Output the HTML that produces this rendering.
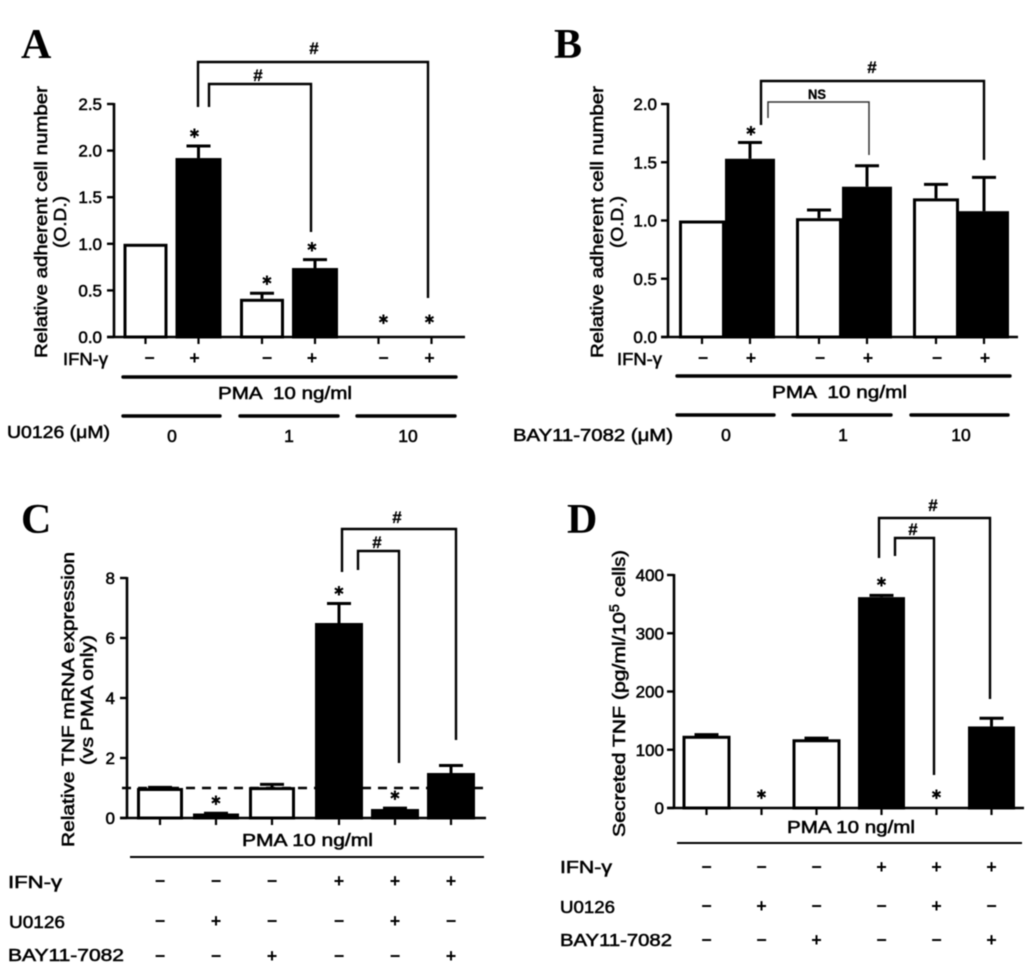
<!DOCTYPE html>
<html lang="en">
<head>
<meta charset="utf-8">
<title>TNF and adhesion bar charts</title>
<style>
  html, body { margin: 0; padding: 0; background: #fff; }
  #figure { display: block; width: 1033px; height: 980px; filter: blur(0.45px); }
  text { font-family: "Liberation Sans", "DejaVu Sans", sans-serif; fill: #000; stroke: #000; stroke-width: 0.55px; }
  .panel-letter { font-family: "Liberation Serif", serif; font-weight: bold; font-size: 42px; stroke: none; fill: #000; }
  .axis-title { font-size: 17.5px; }
  .tick-label { font-size: 17px; }
  .row-label { font-size: 17.5px; }
  .sign { font-size: 18px; font-weight: bold; stroke: none; text-anchor: middle; }
  .mark { font-size: 17px; font-weight: bold; stroke: #000; stroke-width: 0.3px; text-anchor: middle; }
  .star { font-family: "DejaVu Sans", sans-serif; font-size: 13px; stroke: none; text-anchor: middle; fill: #000; }
  .rule { stroke: #000; stroke-linecap: round; fill: none; }
  .bracket { stroke: #000; stroke-width: 2.4; fill: none; }
</style>
</head>
<body>
<svg id="figure" xmlns="http://www.w3.org/2000/svg" width="1033" height="980" viewBox="0 0 1033 980">
  <rect x="0" y="0" width="1033" height="980" fill="#fff"/>

  <g id="panel-a">
    <text class="panel-letter" x="21" y="58">A</text>
    <text class="axis-title" transform="translate(47,358) rotate(-90)" textLength="272" lengthAdjust="spacingAndGlyphs">Relative adherent cell number</text>
    <text class="axis-title" transform="translate(66,248) rotate(-90)" textLength="52" lengthAdjust="spacingAndGlyphs">(O.D.)</text>
    <text class="row-label" x="63" y="365" textLength="45" lengthAdjust="spacingAndGlyphs">IFN-γ</text>
    <line class="rule" x1="123" y1="377" x2="456" y2="377" stroke-width="3.4"/>
    <text class="row-label" x="218" y="399" textLength="134" lengthAdjust="spacingAndGlyphs" xml:space="preserve">PMA  10 ng/ml</text>
    <line class="rule" x1="123" y1="416" x2="220" y2="416" stroke-width="3.4"/>
    <line class="rule" x1="240" y1="416" x2="338" y2="416" stroke-width="3.4"/>
    <line class="rule" x1="357" y1="416" x2="455" y2="416" stroke-width="3.4"/>
    <text class="row-label" x="7" y="438" textLength="103" lengthAdjust="spacingAndGlyphs">U0126 (μM)</text>
    <text class="row-label" x="172" y="442" text-anchor="middle">0</text>
    <text class="row-label" x="289" y="442" text-anchor="middle">1</text>
    <text class="row-label" x="408" y="442" text-anchor="middle">10</text>
    <polyline class="bracket" points="198,107 198,62 428,62 428,298"/>
    <polyline class="bracket" points="209,107 209,84 311,84 311,232"/>
    <text class="mark" x="314" y="54">#</text>
    <text class="mark" x="258" y="81">#</text>
  </g>

  <g id="panel-b">
    <text class="panel-letter" x="554" y="58">B</text>
    <text class="axis-title" transform="translate(603,358) rotate(-90)" textLength="272" lengthAdjust="spacingAndGlyphs">Relative adherent cell number</text>
    <text class="axis-title" transform="translate(623,248) rotate(-90)" textLength="52" lengthAdjust="spacingAndGlyphs">(O.D.)</text>
    <text class="row-label" x="617" y="365" textLength="45" lengthAdjust="spacingAndGlyphs">IFN-γ</text>
    <line class="rule" x1="677" y1="376" x2="1010" y2="376" stroke-width="3.4"/>
    <text class="row-label" x="772" y="398" textLength="135" lengthAdjust="spacingAndGlyphs" xml:space="preserve">PMA  10 ng/ml</text>
    <line class="rule" x1="677" y1="415" x2="774" y2="415" stroke-width="3.4"/>
    <line class="rule" x1="793" y1="415" x2="891" y2="415" stroke-width="3.4"/>
    <line class="rule" x1="911" y1="415" x2="1008" y2="415" stroke-width="3.4"/>
    <text class="row-label" x="513" y="441" textLength="160" lengthAdjust="spacingAndGlyphs">BAY11-7082 (μM)</text>
    <text class="row-label" x="726" y="441" text-anchor="middle">0</text>
    <text class="row-label" x="843" y="441" text-anchor="middle">1</text>
    <text class="row-label" x="961" y="441" text-anchor="middle">10</text>
    <polyline class="bracket" points="761,125 761,81 984,81 984,160"/>
    <polyline class="bracket" points="768,118 768,102 869,102 869,155" style="stroke-width:1.5;stroke:#333"/>
    <text class="mark" x="872" y="73">#</text>
    <text class="mark" x="817" y="99" style="font-size:14px" textLength="18" lengthAdjust="spacingAndGlyphs">NS</text>
  </g>

  <g id="panel-c">
    <text class="panel-letter" x="21" y="533">C</text>
    <text class="axis-title" transform="translate(74,847) rotate(-90)" textLength="295" lengthAdjust="spacingAndGlyphs">Relative TNF mRNA expression</text>
    <text class="axis-title" transform="translate(93,765) rotate(-90)" textLength="130" lengthAdjust="spacingAndGlyphs">(vs PMA only)</text>
    <text class="row-label" x="242" y="846" textLength="131" lengthAdjust="spacingAndGlyphs">PMA 10 ng/ml</text>
    <line x1="130" y1="857" x2="484" y2="857" stroke="#000" stroke-width="2"/>
    <text class="row-label" x="8" y="888" textLength="54" lengthAdjust="spacingAndGlyphs">IFN-γ</text>
    <text class="row-label" x="9" y="928" textLength="56" lengthAdjust="spacingAndGlyphs">U0126</text>
    <text class="row-label" x="8" y="961" textLength="116" lengthAdjust="spacingAndGlyphs">BAY11-7082</text>
    <polyline class="bracket" points="342,572 342,529 456,529 456,740"/>
    <polyline class="bracket" points="358,570 358,551 399,551 399,763"/>
    <text class="mark" x="397" y="523">#</text>
    <text class="mark" x="377" y="548">#</text>
  </g>

  <g id="panel-d">
    <text class="panel-letter" x="567" y="533">D</text>
    <text class="axis-title" transform="translate(625,837) rotate(-90)" textLength="225" lengthAdjust="spacingAndGlyphs">Secreted TNF (pg/ml/10</text>
    <text class="axis-title" transform="translate(619,612) rotate(-90)" style="font-size:14px">5</text>
    <text class="axis-title" transform="translate(625,597) rotate(-90)" textLength="47" lengthAdjust="spacingAndGlyphs">cells)</text>
    <text class="row-label" x="787" y="833" textLength="128" lengthAdjust="spacingAndGlyphs">PMA 10 ng/ml</text>
    <line x1="677" y1="843" x2="1022" y2="843" stroke="#000" stroke-width="2"/>
    <text class="row-label" x="560" y="873" textLength="52" lengthAdjust="spacingAndGlyphs">IFN-γ</text>
    <text class="row-label" x="560" y="913" textLength="55" lengthAdjust="spacingAndGlyphs">U0126</text>
    <text class="row-label" x="560" y="946" textLength="112" lengthAdjust="spacingAndGlyphs">BAY11-7082</text>
    <polyline class="bracket" points="879,558 879,518 990,518 990,699"/>
    <polyline class="bracket" points="895,556 895,538 934,538 934,775"/>
    <text class="mark" x="933" y="511">#</text>
    <text class="mark" x="913" y="535">#</text>
  </g>
</svg>

<script>
// ---- Panel A data
var aValues = [1.0, 1.92, 0.41, 0.74, 0, 0];
var aErrorTops = [1.0, 2.05, 0.47, 0.83, 0, 0];
var aStarred = [false, true, true, true, true, true];
var aIfn = ['−', '+', '−', '+', '−', '+'];
var aTicks = ['0.0', '0.5', '1.0', '1.5', '2.0', '2.5'];

// ---- Panel B data
var bValues = [1.0, 1.53, 1.02, 1.29, 1.19, 1.08];
var bErrorTops = [1.0, 1.67, 1.09, 1.47, 1.31, 1.37];
var bStarred = [false, true, false, false, false, false];
var bIfn = ['−', '+', '−', '+', '−', '+'];
var bTicks = ['0.0', '0.5', '1.0', '1.5', '2.0'];

// ---- Panel C data
var cValues = [1.0, 0.15, 1.03, 6.5, 0.3, 1.5];
var cErrorTops = [1.02, 0.16, 1.12, 7.15, 0.33, 1.75];
var cStarred = [false, true, false, true, true, false];
var cIfn = ['−', '−', '−', '+', '+', '+'];
var cU0126 = ['−', '+', '−', '−', '+', '−'];
var cBay = ['−', '−', '+', '−', '−', '+'];
var cTicks = ['0', '2', '4', '6', '8'];
var cReference = [1];

// ---- Panel D data
var dValues = [124, 0, 118, 362, 0, 140];
var dErrorTops = [126, 0, 120, 365, 0, 154];
var dStarred = [false, true, false, true, true, false];
var dIfn = ['−', '−', '−', '+', '+', '+'];
var dU0126 = ['−', '+', '−', '−', '+', '−'];
var dBay = ['−', '−', '+', '−', '−', '+'];
var dTicks = ['0', '100', '200', '300', '400'];

var SVG_NS = 'http://www.w3.org/2000/svg';

function addLine(group, x1, y1, x2, y2, width, name) {
  var el = document.createElementNS(SVG_NS, 'line');
  el.setAttribute('x1', x1);
  el.setAttribute('y1', y1);
  el.setAttribute('x2', x2);
  el.setAttribute('y2', y2);
  el.setAttribute('stroke', '#000');
  el.setAttribute('stroke-width', width);
  
  
  group.appendChild(el);
  return el;
}

function addText(group, cls, x, y, content, anchor, name) {
  var el = document.createElementNS(SVG_NS, 'text');
  el.setAttribute('class', cls);
  el.setAttribute('x', x);
  el.setAttribute('y', y);
  if (anchor) { el.setAttribute('text-anchor', anchor); }
  el.textContent = content;
  
  
  group.appendChild(el);
  return el;
}

function addBar(group, cx, top, base, width, black, name) {
  var el = document.createElementNS(SVG_NS, 'rect');
  el.setAttribute('x', cx - width / 2 + 1.5);
  el.setAttribute('y', top + 1.5);
  el.setAttribute('width', Math.max(width - 3, 0));
  el.setAttribute('height', Math.max(base - top - 1.5, 0));
  el.setAttribute('fill', black ? '#000' : '#fff');
  el.setAttribute('stroke', '#000');
  el.setAttribute('stroke-width', 3);
  
  
  group.appendChild(el);
  return el;
}

function drawPanel(opt) {
  var g = document.getElementById(opt.id);
  var yScale = function (v) {
    return opt.yBase - (v / opt.yMax) * (opt.yBase - opt.yTop);
  };
  var n = opt.values.length;
  var i;

  // error bars sit behind the bars
  for (i = 0; i < n; i++) {
    if (opt.errorTops[i] > opt.values[i]) {
      var ex = opt.xScale(i);
      var ey = yScale(opt.errorTops[i]);
      addLine(g, ex, yScale(opt.values[i]), ex, ey, 3, 'error-stem-' + opt.key + '-' + i);
      addLine(g, ex - 12, ey, ex + 12, ey, 3, 'error-cap-' + opt.key + '-' + i);
    }
  }

  // bars
  for (i = 0; i < n; i++) {
    if (opt.values[i] > 0) {
      var black = i >= opt.firstBlack(i);
      addBar(g, opt.xScale(i), yScale(opt.values[i]), opt.yBase,
        black ? opt.blackWidth : opt.whiteWidth, black, 'bar-' + opt.key + '-' + i);
    }
  }

  // axes
  addLine(g, opt.axisX, opt.yTop - 1, opt.axisX, opt.yBase + 1, 2.6, 'y-axis-' + opt.key);
  addLine(g, opt.axisX - 7, opt.yBase, opt.xEnd, opt.yBase, 2.6, 'x-axis-' + opt.key);

  // y ticks and labels
  for (i = 0; i < opt.ticks.length; i++) {
    var tv = parseFloat(opt.ticks[i]);
    var ty = yScale(tv);
    addLine(g, opt.axisX - 7, ty, opt.axisX, ty, 2.4, 'y-tick-' + opt.key + '-' + opt.ticks[i]);
    addText(g, 'tick-label', opt.tickRight, ty + 6, opt.ticks[i], 'end', 'y-tick-label-' + opt.key + '-' + opt.ticks[i]);
  }

  // x ticks
  for (i = 0; i < n; i++) {
    addLine(g, opt.xScale(i), opt.yBase, opt.xScale(i), opt.yBase + 7, 2.2, 'x-tick-' + opt.key + '-' + i);
  }

  // stars follow each bar's error top
  for (i = 0; i < n; i++) {
    if (opt.starred[i]) {
      var offset = opt.errorTops[i] > 0 ? opt.starGap : opt.zeroStarGap;
      var sy = yScale(opt.errorTops[i]) - offset;
      addText(g, 'star', opt.xScale(i) + opt.shift(i), sy + 5, '✱', null, 'significance-star-' + opt.key + '-' + i);
    }
  }

  // condition sign rows
  opt.rows.forEach(function (row) {
    row.signs.forEach(function (s, j) {
      addText(g, 'sign', opt.xScale(j) + opt.shift(j), row.y + 6, s, null, row.name + '-sign-' + opt.key + '-' + j);
    });
  });
}

drawPanel({
  id: 'panel-a', key: 'a', values: aValues, errorTops: aErrorTops, starred: aStarred, ticks: aTicks,
  yBase: 337, yTop: 104, yMax: 2.5, axisX: 114, xEnd: 465, tickRight: 102,
  xScale: function (i) { return 145.5 + Math.floor(i / 2) * 116.5 + (i % 2) * 53; },
  firstBlack: function (i) { return i % 2 === 1 ? 0 : 99; },
  whiteWidth: 44, blackWidth: 46, starGap: 13, zeroStarGap: 18,
  shift: function (i) { return [4, -4, 5, -3, 5, -2][i]; },
  rows: [{ y: 358, signs: aIfn, name: 'ifn' }]
});

drawPanel({
  id: 'panel-b', key: 'b', values: bValues, errorTops: bErrorTops, starred: bStarred, ticks: bTicks,
  yBase: 337, yTop: 104, yMax: 2.0, axisX: 668, xEnd: 1018, tickRight: 657,
  xScale: function (i) { return 702 + Math.floor(i / 2) * 117 + (i % 2) * 48; },
  firstBlack: function (i) { return i % 2 === 1 ? 0 : 99; },
  whiteWidth: 46, blackWidth: 50, starGap: 12, zeroStarGap: 18,
  shift: function (i) { return 1; },
  rows: [{ y: 358, signs: bIfn, name: 'ifn' }]
});

drawPanel({
  id: 'panel-c', key: 'c', values: cValues, errorTops: cErrorTops, starred: cStarred, ticks: cTicks,
  yBase: 818, yTop: 578, yMax: 8, axisX: 127, xEnd: 486, tickRight: 115,
  xScale: function (i) { return 160 + 56 * i + (i >= 3 ? 11 : 0); },
  firstBlack: function (i) { return 3; },
  whiteWidth: 46, blackWidth: 48, starGap: 13, zeroStarGap: 18,
  shift: function (i) { return 0; },
  rows: [
    { y: 881, signs: cIfn, name: 'ifn' },
    { y: 921, signs: cU0126, name: 'u0126' },
    { y: 956, signs: cBay, name: 'bay' }
  ]
});

(function drawReferenceLine() {
  var g = document.getElementById('panel-c');
  var ry = 818 - (cReference[0] / 8) * (818 - 578);
  var line = addLine(g, 122, ry, 487, ry, 2.6, 'reference-line-c');
  line.setAttribute('stroke-dasharray', '9 7');
})();

drawPanel({
  id: 'panel-d', key: 'd', values: dValues, errorTops: dErrorTops, starred: dStarred, ticks: dTicks,
  yBase: 808, yTop: 575, yMax: 400, axisX: 674, xEnd: 1024, tickRight: 664,
  xScale: function (i) { return 706.5 + 55 * i + (i >= 3 ? 10 : 0); },
  firstBlack: function (i) { return 3; },
  whiteWidth: 48, blackWidth: 47, starGap: 14, zeroStarGap: 14,
  shift: function (i) { return 0; },
  rows: [
    { y: 867, signs: dIfn, name: 'ifn' },
    { y: 906, signs: dU0126, name: 'u0126' },
    { y: 940, signs: dBay, name: 'bay' }
  ]
});
</script>
</body>
</html>
